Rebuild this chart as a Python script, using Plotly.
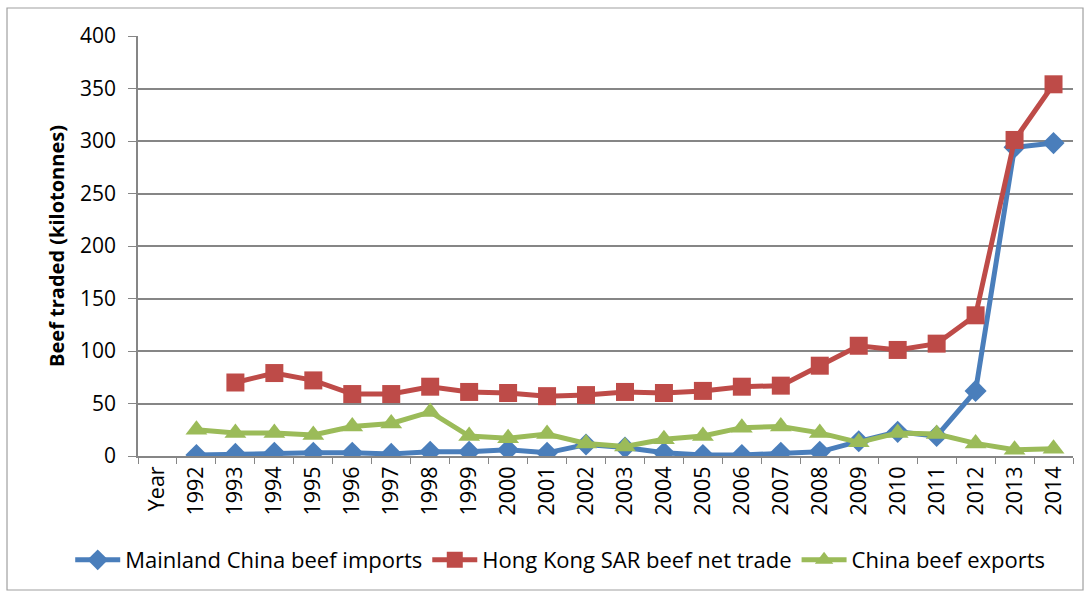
import plotly.graph_objects as go

# Categories along the x axis (first slot is the axis caption "Year")
categories = ["Year"] + [str(y) for y in range(1992, 2015)]

# Beef traded, kilotonnes (None = no data)
mainland_imports = [None, 1, 2, 3, 3, 3, 2, 4, 4, 6, 3, 11, 8, 3, 1, 1, 3, 4, 14, 23, 19, 62, 294, 298]
hk_net_trade = [None, None, 70, 79, 72, 59, 59, 66, 61, 60, 57, 58, 61, 60, 62, 66, 67, 86, 105, 101, 107, 134, 301, 354]
china_exports = [None, 25, 22, 22, 20, 28, 31, 42, 19, 17, 21, 12, 9, 16, 19, 27, 28, 22, 13, 22, 21, 12, 6, 7]

y_ticks = [0, 50, 100, 150, 200, 250, 300, 350, 400]

FONT = "'Open Sans', 'Noto Sans', sans-serif"
GRID = "#868686"

fig = go.Figure()
fig.add_trace(go.Scatter(
    x=categories, y=mainland_imports, name="Mainland China beef imports",
    mode="lines+markers", line=dict(color="#4A7EBB", width=5),
    marker=dict(symbol="diamond", size=17, color="#4A7EBB"),
))
fig.add_trace(go.Scatter(
    x=categories, y=hk_net_trade, name="Hong Kong SAR beef net trade",
    mode="lines+markers", line=dict(color="#BE4B48", width=5),
    marker=dict(symbol="square", size=18, color="#BE4B48"),
))
fig.add_trace(go.Scatter(
    x=categories, y=china_exports, name="China beef exports",
    mode="lines+markers", line=dict(color="#9BBB59", width=5),
    marker=dict(symbol="triangle-up", size=19, color="#9BBB59"),
))

# Outer chart border
fig.add_shape(type="rect", xref="paper", yref="paper",
              x0=-0.1401, x1=1.0107, y0=-0.319, y1=1.0667,
              line=dict(color="#A0A0A0", width=1.2), fillcolor="rgba(0,0,0,0)", layer="below")

fig.update_layout(
    width=1090, height=593,
    margin=dict(l=138, r=17, t=36, b=137, autoexpand=False),
    paper_bgcolor="white", plot_bgcolor="white",
    font=dict(family=FONT, size=22, color="#000000"),
    showlegend=True,
    legend=dict(orientation="h", x=-0.0725, xanchor="left", y=-0.2476, yanchor="middle",
                font=dict(size=22), itemwidth=45, tracegroupgap=0, bgcolor="rgba(0,0,0,0)"),
    xaxis=dict(
        type="category", categoryorder="array", categoryarray=categories,
        range=[-0.5, len(categories) - 0.5],
        tickangle=-90, tickson="boundaries", ticks="outside", ticklen=6,
        tickcolor=GRID, showline=True, linecolor=GRID, linewidth=1.5,
        showgrid=False, tickfont=dict(size=21.5), fixedrange=True,
    ),
    yaxis=dict(
        range=[0, 400], tickvals=y_ticks, ticks="outside", ticklen=8, tickcolor=GRID,
        showline=True, linecolor=GRID, linewidth=1.5,
        showgrid=True, gridcolor=GRID, gridwidth=1.5, zeroline=False,
        tickfont=dict(size=21), ticklabelstandoff=8,
        title=dict(text="<b>Beef traded (kilotonnes)</b>", font=dict(size=20), standoff=10),
    ),
)

fig.write_html("out.html")
